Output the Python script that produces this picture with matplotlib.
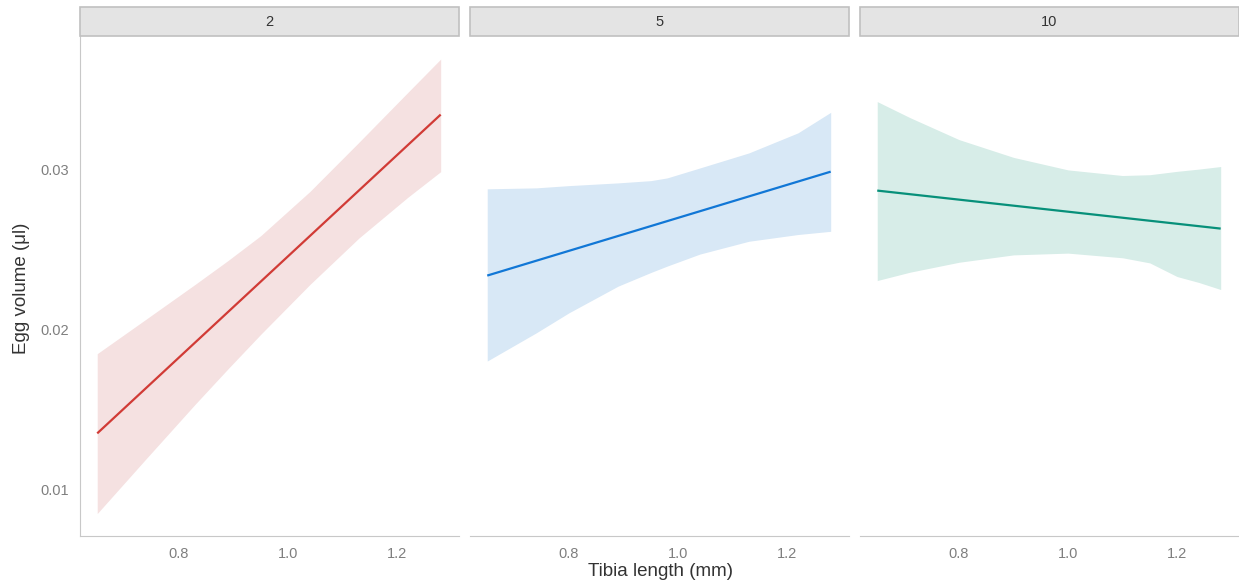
import matplotlib.pyplot as plt
from matplotlib.patches import Rectangle

plt.rcParams['font.family'] = ['Liberation Sans', 'DejaVu Sans']

# fitted egg volume vs tibia length, one panel per group, with 95% band
panels = ['2', '5', '10']

x_fit = [0.65, 1.28]
fit = {
    '2': [0.01352, 0.03340],
    '5': [0.02336, 0.02984],
    '10': [0.02866, 0.02629],
}

band_x = {
    '2': [0.65, 0.74, 0.83, 0.89, 0.95, 1.04, 1.13, 1.22, 1.28],
    '5': [0.65, 0.74, 0.80, 0.89, 0.95, 0.98, 1.04, 1.13, 1.22, 1.28],
    '10': [0.65, 0.71, 0.80, 0.90, 1.00, 1.10, 1.15, 1.20, 1.24, 1.28],
}
band_lo = {
    '2': [0.00852, 0.01195, 0.01535, 0.01755, 0.01970, 0.02280, 0.02570, 0.02825, 0.02984],
    '5': [0.01803, 0.01979, 0.02104, 0.02270, 0.02355, 0.02395, 0.02470, 0.02550, 0.02592, 0.02612],
    '10': [0.02305, 0.02357, 0.02419, 0.02465, 0.02476, 0.02447, 0.02415, 0.02330, 0.02293, 0.02249],
}
band_hi = {
    '2': [0.01849, 0.02065, 0.02282, 0.02430, 0.02585, 0.02860, 0.03167, 0.03479, 0.03686],
    '5': [0.02877, 0.02883, 0.02897, 0.02914, 0.02928, 0.02945, 0.03007, 0.03101, 0.03226, 0.03354],
    '10': [0.03421, 0.03321, 0.03184, 0.03073, 0.02995, 0.02960, 0.02965, 0.02986, 0.03000, 0.03016],
}

line_colors = {'2': '#D13B36', '5': '#1177D6', '10': '#07907A'}
fill_colors = {'2': '#F5E1E1', '5': '#D8E8F6', '10': '#D7EDE8'}

W, H = 1239, 585
fig = plt.figure(figsize=(W / 100, H / 100), dpi=100)

lefts = [80, 470, 860]
pw = 379
top, bottom = 36, 536

for i, p in enumerate(panels):
    ax = fig.add_axes([lefts[i] / W, (H - bottom) / H, pw / W, (bottom - top) / H])
    ax.fill_between(band_x[p], band_lo[p], band_hi[p], color=fill_colors[p], lw=0)
    ax.plot(x_fit, fit[p], color=line_colors[p], lw=1.6, solid_capstyle='butt')
    ax.set_xlim(0.6184, 1.3136)
    ax.set_ylim(0.00712, 0.0383)
    ax.set_xticks([0.8, 1.0, 1.2])
    ax.set_xticklabels(['0.8', '1.0', '1.2'])
    ax.set_yticks([0.01, 0.02, 0.03])
    ax.tick_params(length=0, labelsize=10.5, labelcolor='#7F7F7F', pad=8)
    for s in ['top', 'right']:
        ax.spines[s].set_visible(False)
    ax.spines['bottom'].set_color('#C8C8C8')
    ax.spines['left'].set_color('#C8C8C8')
    if i == 0:
        ax.set_yticklabels(['0.01', '0.02', '0.03'])
    else:
        ax.spines['left'].set_visible(False)
        ax.set_yticklabels([])

    # facet strip
    sax = fig.add_axes([lefts[i] / W, (H - top) / H, pw / W, 29 / H])
    sax.set_xlim(0, 1)
    sax.set_ylim(0, 1)
    sax.axis('off')
    sax.add_patch(Rectangle((0, 0), 1, 1, transform=sax.transAxes,
                            facecolor='#E4E4E4', edgecolor='#C0C0C0', lw=1.2,
                            clip_on=False))
    sax.text(0.5, 0.5, p, ha='center', va='center', fontsize=10.5, color='#333333')

fig.text(660 / W, 1 - 571 / H, 'Tibia length (mm)', ha='center', va='center',
         fontsize=13.5, color='#333333')
fig.text(22 / W, 1 - 288 / H, 'Egg volume (μl)', ha='center', va='center',
         rotation=90, fontsize=13.5, color='#333333')

fig.savefig('out.png', dpi=100, facecolor='white')
